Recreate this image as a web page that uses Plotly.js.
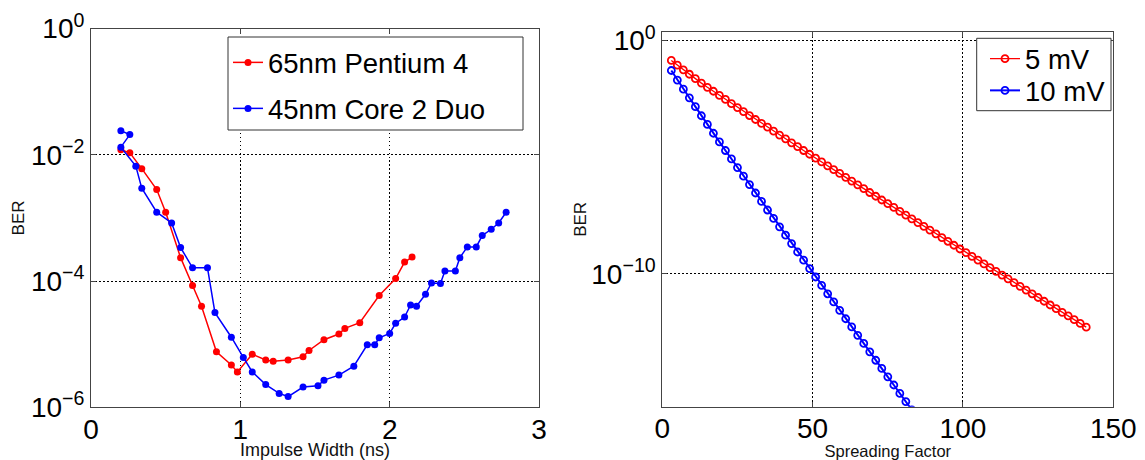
<!DOCTYPE html>
<html>
<head>
<meta charset="utf-8">
<script src="https://cdn.plot.ly/plotly-3.0.1.min.js"></script>
<style>
  html, body { margin: 0; padding: 0; background: #fff; }
  #chart { width: 1145px; height: 460px; }
</style>
</head>
<body>
<div id="chart"></div>
<script>
// ---- Left panel: BER vs impulse width (log10 of BER) ----
const p4Width = [0.20,0.26,0.34,0.44,0.50,0.60,0.68,0.74,0.84,0.94,0.98,1.08,1.17,1.22,1.32,1.42,1.46,1.56,1.66,1.70,1.80,1.93,2.04,2.10,2.15];
const p4BerLog10 = [-1.92,-1.97,-2.22,-2.55,-2.91,-3.63,-4.07,-4.40,-5.12,-5.33,-5.44,-5.16,-5.25,-5.27,-5.25,-5.20,-5.10,-4.93,-4.84,-4.75,-4.66,-4.23,-3.96,-3.70,-3.62];

const c2dWidth = [0.20,0.26,0.20,0.30,0.34,0.44,0.54,0.60,0.68,0.78,0.83,0.94,1.02,1.08,1.17,1.26,1.32,1.42,1.52,1.56,1.66,1.76,1.85,1.90,1.93,2.00,2.04,2.10,2.14,2.18,2.24,2.28,2.34,2.37,2.44,2.47,2.52,2.58,2.62,2.68,2.73,2.78];
const c2dBerLog10 = [-1.62,-1.68,-1.88,-2.18,-2.53,-2.91,-3.08,-3.47,-3.79,-3.79,-4.50,-4.89,-5.21,-5.44,-5.64,-5.78,-5.83,-5.68,-5.66,-5.57,-5.49,-5.35,-5.01,-5.01,-4.90,-4.83,-4.67,-4.57,-4.38,-4.40,-4.21,-4.03,-4.04,-3.84,-3.84,-3.63,-3.46,-3.46,-3.28,-3.18,-3.08,-2.91];

// ---- Right panel: BER vs spreading factor ----
const sf5mV = [3,5,7,9,11,13,15,17,19,21,23,25,27,29,31,33,35,37,39,41,43,45,47,49,51,53,55,57,59,61,63,65,67,69,71,73,75,77,79,81,83,85,87,89,91,93,95,97,99,101,103,105,107,109,111,113,115,117,119,121,123,125,127,129,131,133,135,137,139,141];
const ber5mVLog10 = [-0.85,-1.05,-1.25,-1.44,-1.63,-1.82,-2.00,-2.17,-2.35,-2.52,
  -2.70,-2.87,-3.04,-3.21,-3.38,-3.55,-3.71,-3.88,-4.05,-4.21,
  -4.38,-4.54,-4.71,-4.87,-5.04,-5.20,-5.37,-5.53,-5.69,-5.86,
  -6.02,-6.18,-6.34,-6.51,-6.67,-6.83,-6.99,-7.15,-7.32,-7.48,
  -7.64,-7.80,-7.96,-8.12,-8.28,-8.44,-8.60,-8.77,-8.93,-9.09,
  -9.25,-9.41,-9.57,-9.73,-9.89,-10.05,-10.21,-10.37,-10.53,-10.69,
  -10.85,-11.01,-11.17,-11.33,-11.49,-11.65,-11.80,-11.96,-12.12,-12.28];

const sf10mV = [3,5,7,9,11,13,15,17,19,21,23,25,27,29,31,33,35,37,39,41,43,45,47,49,51,53,55,57,59,61,63,65,67,69,71,73,75,77,79,81,83];
const ber10mVLog10 = [-1.28,-1.69,-2.08,-2.45,-2.83,-3.22,-3.59,-3.97,-4.34,-4.71,
  -5.07,-5.44,-5.81,-6.17,-6.53,-6.89,-7.26,-7.62,-7.98,-8.34,
  -8.70,-9.06,-9.41,-9.77,-10.13,-10.49,-10.85,-11.20,-11.56,-11.92,
  -12.27,-12.63,-12.98,-13.34,-13.70,-14.05,-14.41,-14.76,-15.12,-15.47,
  -15.83];

const leftYTicks = [0,-2,-4,-6];
const rightYTicks = [0,-10];
const leftXTicks = [0,1,2,3];
const rightXTicks = [0,50,100,150];

const toBer = a => a.map(v => Math.pow(10, v));
const supText = e => '10<sup>' + (e < 0 ? '\u2212' + (-e) : e) + '</sup>';

const FONT = 'Liberation Sans, Arial, Helvetica, sans-serif';
const W = 1145, H = 460;
const px = v => v / W;
const py = v => (H - v) / H;

const traces = [
  { x: p4Width, y: toBer(p4BerLog10), name: '65nm Pentium 4', mode: 'lines+markers',
    line: { color: '#ff0000', width: 1.5 }, marker: { color: '#ff0000', size: 7 },
    xaxis: 'x', yaxis: 'y', legend: 'legend' },
  { x: c2dWidth, y: toBer(c2dBerLog10), name: '45nm Core 2 Duo', mode: 'lines+markers',
    line: { color: '#0000ff', width: 1.5 }, marker: { color: '#0000ff', size: 7 },
    xaxis: 'x', yaxis: 'y', legend: 'legend2' },
  { x: sf5mV, y: toBer(ber5mVLog10), name: '5 mV', mode: 'lines+markers',
    line: { color: '#ff0000', width: 1.3 },
    marker: { color: '#ff0000', size: 7, symbol: 'circle-open', line: { width: 1.8, color: '#ff0000' } },
    xaxis: 'x2', yaxis: 'y2', legend: 'legend3' },
  { x: sf10mV, y: toBer(ber10mVLog10), name: '10 mV', mode: 'lines+markers',
    line: { color: '#0000ff', width: 2 },
    marker: { color: '#0000ff', size: 7, symbol: 'circle-open', line: { width: 1.8, color: '#0000ff' } },
    xaxis: 'x2', yaxis: 'y2', legend: 'legend4' }
];

const axisCommon = {
  showline: true, linecolor: '#444', linewidth: 1, mirror: 'ticks',
  ticks: 'inside', ticklen: 5, tickcolor: '#444', tickwidth: 1,
  showgrid: true, gridcolor: '#000', griddash: '1.5px,2.5px', gridwidth: 1,
  zeroline: false, automargin: false,
  tickfont: { family: FONT, size: 28, color: '#000' }
};
const leftTitleFont = { family: FONT, size: 18, color: '#111' };
const rightTitleFont = { family: FONT, size: 16.5, color: '#111' };
const berTitleFont = { family: FONT, size: 17, color: '#111' };

const legendCommon = (x, top) => ({
  x: px(x), y: py(top), xanchor: 'left', yanchor: 'top',
  bgcolor: 'rgba(0,0,0,0)', borderwidth: 0,
  font: { family: FONT, size: 27.5, color: '#000' }
});

const layout = {
  width: W, height: H,
  margin: { l: 0, r: 0, t: 0, b: 0 },
  paper_bgcolor: '#fff', plot_bgcolor: '#fff',
  showlegend: true,
  xaxis: Object.assign({}, axisCommon, {
    domain: [px(91), px(539)], range: [0, 3],
    tickvals: leftXTicks, ticktext: leftXTicks.map(String), ticklabelstandoff: -3,
    title: { text: 'Impulse Width (ns)', font: leftTitleFont, standoff: 1 },
    anchor: 'y'
  }),
  yaxis: Object.assign({}, axisCommon, {
    type: 'log', domain: [py(407.3), py(28.5)], range: [-6, 0],
    tickvals: leftYTicks.map(e => Math.pow(10, e)), ticktext: leftYTicks.map(supText),
    title: { text: 'BER', font: berTitleFont, standoff: 1 },
    anchor: 'x'
  }),
  xaxis2: Object.assign({}, axisCommon, {
    domain: [px(662.3), px(1113.3)], range: [0, 150],
    tickvals: rightXTicks, ticktext: rightXTicks.map(String), ticklabelstandoff: -3,
    title: { text: 'Spreading Factor', font: rightTitleFont, standoff: 4 },
    anchor: 'y2'
  }),
  yaxis2: Object.assign({}, axisCommon, {
    type: 'log', domain: [py(406.7), py(32)], range: [-15.69, 0.37],
    tickvals: rightYTicks.map(e => Math.pow(10, e)), ticktext: rightYTicks.map(supText),
    title: { text: 'BER', font: berTitleFont, standoff: 0 },
    anchor: 'x2'
  }),
  legend: legendCommon(228, 38),
  legend2: legendCommon(228, 84),
  legend3: legendCommon(985, 34.3),
  legend4: legendCommon(985, 66),
  shapes: [
    { type: 'rect', xref: 'paper', yref: 'paper', x0: px(228), x1: px(523), y0: py(130), y1: py(37),
      line: { color: '#333', width: 1 }, fillcolor: '#fff', layer: 'above' },
    { type: 'rect', xref: 'paper', yref: 'paper', x0: px(976.7), x1: px(1111), y0: py(110.7), y1: py(38.3),
      line: { color: '#333', width: 1 }, fillcolor: '#fff', layer: 'above' }
  ]
};

Plotly.newPlot('chart', traces, layout, { displayModeBar: false, staticPlot: true });
</script>
</body>
</html>
